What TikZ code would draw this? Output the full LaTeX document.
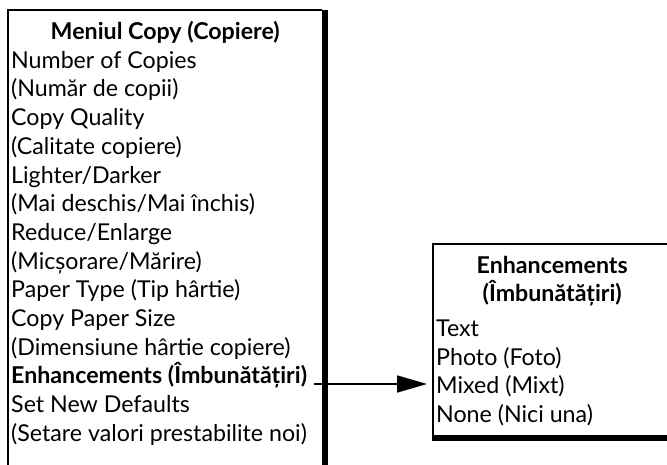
\documentclass[tikz,border=0pt]{standalone}
\usepackage{fontspec}
\setmainfont{Lato}
\usetikzlibrary{arrows.meta}
\begin{document}
\begin{tikzpicture}[x=1pt,y=-1pt,
  thinedge/.style={line width=1.3pt,line join=miter},
  thickedge/.style={line width=6pt},
  menutext/.style={anchor=base west,inner sep=0pt,font=\fontsize{23.2}{28.7}\selectfont},
  link/.style={line width=1.6pt,-{Triangle[length=30pt,width=17pt]}}]
\useasboundingbox (0,0) rectangle (667,464);
% left box
\draw[thinedge] (8,470) -- (8,10) -- (322,10);
\draw[thickedge] (325,10) -- (325,470);
% right box
\draw[thinedge] (433,441) -- (433,244) -- (680,244);
\draw[thickedge] (432.35,438) -- (680,438);
% texts
\node[menutext] (menu) at (11,39.5) {\vtop{%
  \hbox to 308pt{\hfil\bfseries Meniul Copy (Copiere)\hfil}
  \hbox{Number of Copies}
  \hbox{(Număr de copii)}
  \hbox{Copy Quality}
  \hbox{(Calitate copiere)}
  \hbox{Lighter/Darker}
  \hbox{(Mai deschis/Mai închis)}
  \hbox{Reduce/Enlarge}
  \hbox{(Micșorare/Mărire)}
  \hbox{Paper Type (Tip hârtie)}
  \hbox{Copy Paper Size}
  \hbox{(Dimensiune hârtie copiere)}
  \hbox{\bfseries Enhancements (Îmbunătățiri)}
  \hbox{Set New Defaults}
  \hbox{(Setare valori prestabilite noi)}}};
\node[menutext] (enh) at (436,273) {\vtop{%
  \hbox to 232pt{\hfil\bfseries Enhancements\hfil}
  \hbox to 232pt{\hfil\bfseries (Îmbunătățiri)\hfil}
  \vskip 6pt
  \hbox{Text}
  \hbox{Photo (Foto)}
  \hbox{Mixed (Mixt)}
  \hbox{None (Nici una)}}};
\coordinate (astart) at (314,384);
\coordinate (aend) at (427,384);
\draw[link] (astart) -- (aend);
\end{tikzpicture}
\end{document}
